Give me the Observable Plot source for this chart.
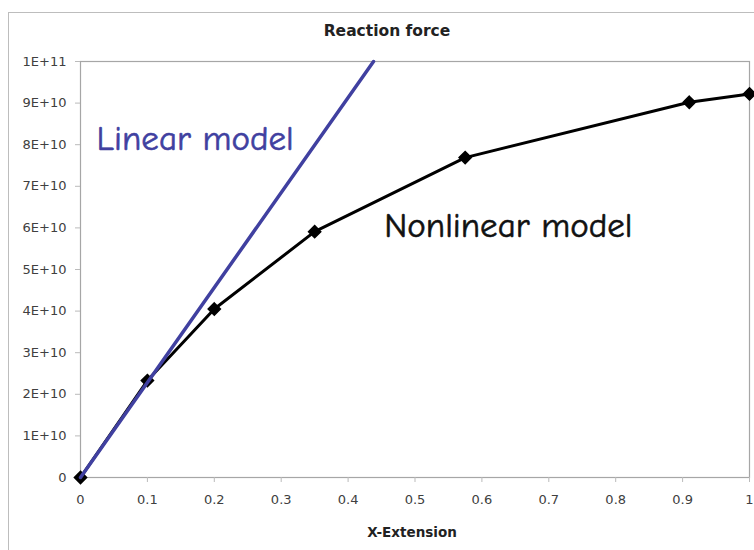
<!DOCTYPE html>
<html>
<head>
<meta charset="utf-8">
<script src="https://cdn.jsdelivr.net/npm/d3@7"></script>
<script src="https://cdn.jsdelivr.net/npm/@observablehq/plot@0.6"></script>
<style>
  html, body { margin: 0; padding: 0; background: #fff; }
  #wrap { position: relative; width: 754px; height: 550px; overflow: hidden; }
  #border { position: absolute; left: 8px; top: 12px; width: 800px; height: 600px; border: 1px solid #bdbdbd; box-sizing: border-box; }
  #chart { position: absolute; left: 0; top: 0; }
</style>
</head>
<body>
<div id="wrap"><div id="border"></div><div id="chart"></div></div>
<script>
// Nonlinear model data
const extension = [0, 0.1, 0.2, 0.35, 0.575, 0.91, 1.0];
const force = [0, 2.33e10, 4.05e10, 5.91e10, 7.69e10, 9.02e10, 9.22e10];
// Linear model line endpoints
const linearX = [0, 0.438];
const linearY = [0, 1e11];
// Tick values
const xTicks = [0, 0.1, 0.2, 0.3, 0.4, 0.5, 0.6, 0.7, 0.8, 0.9, 1];
const yTicks = [0, 1e10, 2e10, 3e10, 4e10, 5e10, 6e10, 7e10, 8e10, 9e10, 1e11];
// Texts
const titleText = "Reaction force";
const xLabel = "X-Extension";
const linearLabel = {x: 0.024, y: 8.15e10, text: "Linear model"};
const nonlinearLabel = {x: 0.454, y: 6.06e10, text: "Nonlinear model"};

const nonlinear = extension.map((x, i) => ({x, y: force[i]}));
const linear = linearX.map((x, i) => ({x, y: linearY[i]}));

const axisFont = "'DejaVu Sans', sans-serif";
const handFont = "'Comic Neue', 'Comic Sans MS', 'Open Sans', sans-serif";

const fmtY = d => d === 0 ? "0" : d3.format(".0e")(d).toUpperCase();

const plot = Plot.plot({
  width: 754,
  height: 550,
  marginLeft: 80,
  marginRight: 5,
  marginTop: 61,
  marginBottom: 73,
  style: {fontFamily: axisFont, background: "transparent"},
  x: {domain: [0, 1]},
  y: {domain: [0, 1e11]},
  marks: [
    Plot.frame({stroke: "#a6a6a6", strokeWidth: 1.2}),
    Plot.axisY(yTicks, {tickSize: 5, tickPadding: 9, tickFormat: fmtY, fontSize: 13, color: "#404040", stroke: "#bbb", label: null}),
    Plot.axisX(xTicks, {tickSize: 5, tickPadding: 12, tickFormat: d => String(d), fontSize: 13, color: "#404040", stroke: "#bbb", label: null}),
    Plot.line(nonlinear, {x: "x", y: "y", stroke: "black", strokeWidth: 3}),
    Plot.dot(nonlinear, {x: "x", y: "y", symbol: "diamond2", r: 5.5, fill: "black", stroke: "black"}),
    Plot.line(linear, {x: "x", y: "y", stroke: "#4040a0", strokeWidth: 3.5}),
    Plot.text([linearLabel], {x: "x", y: "y", text: "text", textAnchor: "start", fontSize: 35, fill: "#4040a0", fontFamily: handFont, stroke: "#4040a0", strokeWidth: 0.6}),
    Plot.text([nonlinearLabel], {x: "x", y: "y", text: "text", textAnchor: "start", fontSize: 35, fill: "#111", fontFamily: handFont, stroke: "#111", strokeWidth: 0.6}),
    Plot.text([titleText], {frameAnchor: "top", lineAnchor: "middle", dy: -30, dx: -28, fontSize: 15.5, fontWeight: "bold", fill: "#222", fontFamily: axisFont}),
    Plot.text([xLabel], {frameAnchor: "bottom", lineAnchor: "middle", dy: 55, dx: -3, fontSize: 13.5, fontWeight: "bold", fill: "#222", fontFamily: axisFont})
  ]
});
document.getElementById("chart").appendChild(plot);
</script>
</body>
</html>
